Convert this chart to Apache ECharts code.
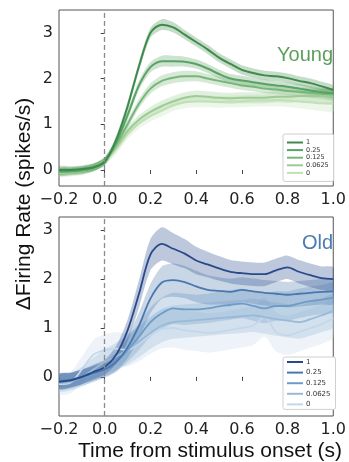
<!DOCTYPE html>
<html>
<head>
<meta charset="utf-8">
<script src="https://cdn.jsdelivr.net/npm/echarts@6/dist/echarts.min.js"></script>
<style>
  html, body { margin: 0; padding: 0; background: #fff; }
  #chart { width: 349px; height: 462px; }
</style>
</head>
<body>
<div id="chart"></div>
<script>
// time from stimulus onset (s)
const times = [-0.2, -0.15, -0.1, -0.05, 0, 0.05, 0.1, 0.15, 0.2, 0.25, 0.3, 0.35, 0.4,
  0.45, 0.5, 0.55, 0.6, 0.65, 0.7, 0.75, 0.8, 0.85, 0.9, 0.95, 1.0];
const levels = ['1', '0.25', '0.125', '0.0625', '0'];
const yTicks = [0, 1, 2, 3];

// Young: mean firing rate change
const young1 = [0.0, 0.0, 0.02, 0.06, 0.18, 0.66, 1.39, 2.27, 3.0, 3.18, 3.12, 2.96, 2.8, 2.64, 2.46, 2.32, 2.19, 2.12, 2.07, 2.05, 2.01, 1.95, 1.9, 1.83, 1.75];
const young025 = [-0.03, -0.02, 0.0, 0.05, 0.2, 0.6, 1.2, 1.85, 2.25, 2.38, 2.38, 2.37, 2.32, 2.22, 2.1, 2.0, 1.96, 1.92, 1.88, 1.85, 1.82, 1.78, 1.74, 1.7, 1.68];
const young0125 = [-0.05, -0.04, -0.02, 0.05, 0.2, 0.55, 1.0, 1.45, 1.78, 1.95, 2.02, 2.05, 2.05, 2.0, 1.95, 1.9, 1.85, 1.82, 1.78, 1.76, 1.73, 1.71, 1.69, 1.67, 1.65];
const young00625 = [-0.05, -0.03, 0.0, 0.06, 0.2, 0.5, 0.85, 1.1, 1.27, 1.4, 1.5, 1.58, 1.62, 1.6, 1.58, 1.57, 1.58, 1.58, 1.58, 1.6, 1.6, 1.62, 1.62, 1.62, 1.62];
const young0 = [-0.06, -0.05, -0.03, 0.05, 0.2, 0.45, 0.78, 1.02, 1.18, 1.3, 1.42, 1.48, 1.5, 1.5, 1.49, 1.5, 1.5, 1.52, 1.52, 1.53, 1.52, 1.5, 1.48, 1.46, 1.45];
// Young: half width of shaded band
const young1Err = [0.08, 0.08, 0.08, 0.08, 0.08, 0.09, 0.1, 0.1, 0.11, 0.12, 0.11, 0.1, 0.1, 0.1, 0.1, 0.1, 0.1, 0.1, 0.1, 0.1, 0.1, 0.1, 0.1, 0.1, 0.1];
const young025Err = [0.08, 0.08, 0.08, 0.08, 0.08, 0.09, 0.1, 0.1, 0.11, 0.12, 0.12, 0.11, 0.1, 0.1, 0.1, 0.1, 0.1, 0.1, 0.1, 0.1, 0.1, 0.1, 0.1, 0.1, 0.1];
const young0125Err = [0.08, 0.08, 0.08, 0.08, 0.08, 0.09, 0.1, 0.1, 0.11, 0.12, 0.12, 0.12, 0.11, 0.1, 0.1, 0.1, 0.1, 0.1, 0.1, 0.1, 0.1, 0.1, 0.11, 0.11, 0.12];
const young00625Err = [0.08, 0.08, 0.08, 0.08, 0.08, 0.09, 0.1, 0.1, 0.11, 0.12, 0.12, 0.12, 0.12, 0.12, 0.12, 0.12, 0.12, 0.12, 0.12, 0.12, 0.13, 0.13, 0.14, 0.14, 0.15];
const young0Err = [0.09, 0.09, 0.09, 0.09, 0.09, 0.1, 0.11, 0.12, 0.12, 0.13, 0.13, 0.13, 0.13, 0.13, 0.13, 0.13, 0.13, 0.13, 0.13, 0.14, 0.14, 0.15, 0.16, 0.17, 0.18];

// Old: mean firing rate change
const old1 = [-0.1, -0.07, 0.0, 0.1, 0.2, 0.45, 0.95, 1.7, 2.5, 2.72, 2.62, 2.52, 2.38, 2.3, 2.22, 2.15, 2.12, 2.1, 2.1, 2.18, 2.24, 2.15, 2.08, 2.02, 2.0];
const old025 = [-0.08, -0.06, 0.0, 0.08, 0.15, 0.3, 0.6, 1.05, 1.6, 1.93, 1.98, 1.94, 1.85, 1.78, 1.76, 1.74, 1.78, 1.75, 1.72, 1.7, 1.68, 1.7, 1.72, 1.74, 1.75];
const old0125 = [-0.1, -0.08, -0.02, 0.05, 0.15, 0.3, 0.55, 0.82, 1.12, 1.3, 1.4, 1.38, 1.38, 1.4, 1.44, 1.47, 1.5, 1.45, 1.4, 1.45, 1.45, 1.5, 1.55, 1.58, 1.62];
const old00625 = [-0.12, -0.1, 0.0, 0.15, 0.3, 0.42, 0.55, 0.72, 0.9, 1.05, 1.12, 1.14, 1.16, 1.18, 1.2, 1.22, 1.24, 1.26, 1.22, 1.18, 1.15, 1.12, 1.18, 1.26, 1.35];
const old0 = [-0.15, -0.12, 0.15, 0.45, 0.55, 0.58, 0.55, 0.68, 0.85, 0.98, 1.0, 0.95, 0.93, 0.9, 0.92, 0.96, 1.0, 1.05, 1.22, 0.92, 0.85, 0.92, 1.0, 1.08, 1.2];
// Old: half width of shaded band
const old1Err = [0.15, 0.15, 0.15, 0.15, 0.15, 0.18, 0.22, 0.28, 0.32, 0.34, 0.32, 0.3, 0.28, 0.26, 0.25, 0.24, 0.24, 0.24, 0.24, 0.24, 0.24, 0.24, 0.24, 0.24, 0.24];
const old025Err = [0.15, 0.15, 0.15, 0.15, 0.15, 0.18, 0.22, 0.26, 0.3, 0.33, 0.34, 0.33, 0.32, 0.3, 0.28, 0.27, 0.26, 0.26, 0.26, 0.26, 0.26, 0.26, 0.26, 0.26, 0.26];
const old0125Err = [0.16, 0.16, 0.16, 0.16, 0.17, 0.2, 0.24, 0.27, 0.3, 0.32, 0.32, 0.32, 0.3, 0.3, 0.3, 0.3, 0.3, 0.3, 0.3, 0.3, 0.3, 0.3, 0.3, 0.3, 0.3];
const old00625Err = [0.18, 0.18, 0.2, 0.24, 0.26, 0.28, 0.3, 0.32, 0.33, 0.34, 0.34, 0.34, 0.34, 0.34, 0.34, 0.34, 0.34, 0.34, 0.34, 0.34, 0.34, 0.34, 0.34, 0.34, 0.34];
const old0Err = [0.2, 0.22, 0.26, 0.3, 0.32, 0.34, 0.34, 0.36, 0.38, 0.4, 0.4, 0.4, 0.4, 0.4, 0.4, 0.4, 0.4, 0.4, 0.4, 0.4, 0.4, 0.4, 0.4, 0.4, 0.4];

const GREENS = ['#3e8a4c', '#58a263', '#76b677', '#9ccb94', '#c0e0b6'];
const BLUES = ['#294a8a', '#4a77ad', '#6e9cc8', '#99b9d6', '#c4d7e9'];
const FONT = 'DejaVu Sans';

function rgba(hex, a) {
  const n = parseInt(hex.slice(1), 16);
  return `rgba(${(n >> 16) & 255},${(n >> 8) & 255},${n & 255},${a})`;
}

const fmtX = (v) => (v < -1e-9 ? '\u2212' : '') + Math.abs(v).toFixed(1);

// shaded band as one polygon: upper edge left->right, lower edge right->left
function bandSeries(idx, mean, err, color, alpha) {
  return {
    type: 'custom', xAxisIndex: idx, yAxisIndex: idx, silent: true, clip: true,
    data: times.map((t, k) => [t, mean[k] - err[k], mean[k] + err[k]]),
    encode: { x: 0, y: [1, 2] },
    renderItem: (params, api) => {
      if (params.dataIndex !== 0) return null;
      const upper = times.map((t, k) => api.coord([t, mean[k] + err[k]]));
      const lower = times.map((t, k) => api.coord([t, mean[k] - err[k]])).reverse();
      return {
        type: 'polygon',
        shape: { points: upper.concat(lower), smooth: 0.25 },
        style: { fill: rgba(color, alpha) },
      };
    },
    z: 1,
  };
}

function panelSeries(tag, idx, means, errs, colors, bandAlpha, lineWidth) {
  const out = [];
  // lightest first so darker bands / lines sit on top
  for (let i = means.length - 1; i >= 0; i--) {
    out.push(bandSeries(idx, means[i], errs[i], colors[i], bandAlpha));
  }
  for (let i = means.length - 1; i >= 0; i--) {
    out.push({
      type: 'line', name: `${tag}:${levels[i]}`, xAxisIndex: idx, yAxisIndex: idx,
      showSymbol: false, smooth: 0.3,
      data: times.map((t, k) => [t, means[i][k]]),
      lineStyle: { color: colors[i], width: lineWidth },
      itemStyle: { color: colors[i] },
      z: 3,
    });
  }
  // dashed onset marker
  out[out.length - 1].markLine = {
    silent: true, symbol: 'none', label: { show: false },
    lineStyle: { color: '#8a8a8a', type: [5, 3], width: 1.3 },
    data: [{ xAxis: 0 }],
  };
  return out;
}

function xAxis(idx) {
  return {
    type: 'value', gridIndex: idx, min: -0.2, max: 1.0, interval: 0.2,
    axisLine: { show: false },
    axisTick: { show: true, length: 4, lineStyle: { color: '#444' } },
    axisLabel: { fontFamily: FONT, fontSize: 16, color: '#222', margin: 6, formatter: fmtX },
    splitLine: { show: false },
  };
}

function yAxis(idx, min, max) {
  return {
    type: 'value', gridIndex: idx, min, max,
    axisLine: { show: false },
    axisTick: { show: true, length: 4, customValues: yTicks, lineStyle: { color: '#444' } },
    axisLabel: { fontFamily: FONT, fontSize: 16, color: '#222', margin: 6, customValues: yTicks },
    splitLine: { show: false },
  };
}

function legend(tag, top, fontSize, lineH, gap, pad) {
  return {
    orient: 'vertical', left: 283, top, selectedMode: false,
    data: levels.map((l) => `${tag}:${l}`),
    formatter: (n) => n.split(':')[1],
    icon: 'rect', itemWidth: 16, itemHeight: 2, itemGap: gap,
    padding: pad, borderColor: '#cfcfcf', borderWidth: 1, borderRadius: 2,
    backgroundColor: '#fff',
    textStyle: { fontFamily: FONT, fontSize, lineHeight: lineH, color: '#333', padding: [0, 0, 0, -2] },
  };
}

const chart = echarts.init(document.getElementById('chart'), null, { renderer: 'canvas' });

const option = {
  animation: false,
  backgroundColor: '#fff',
  grid: [
    { left: 59, top: 10, width: 280, height: 176, show: true, borderColor: '#555', borderWidth: 1, backgroundColor: 'transparent' },
    { left: 59, top: 217, width: 280, height: 199, show: true, borderColor: '#555', borderWidth: 1, backgroundColor: 'transparent' },
  ],
  xAxis: [xAxis(0), xAxis(1)],
  yAxis: [yAxis(0, -0.35, 3.5), yAxis(1, -0.8, 3.27)],
  legend: [
    legend('young', 134, 6.5, 7, 0.6, [5, 5, 5, 4]),
    legend('old', 357, 7, 8, 2.6, [1, 5, 1, 4]),
  ],
  graphic: [
    {
      type: 'text', x: 24, y: 204, rotation: Math.PI / 2,
      style: { text: '\u0394Firing Rate (spikes/s)', fontFamily: 'Liberation Sans', fontSize: 21, fill: '#111', align: 'center', verticalAlign: 'middle' },
    },
    {
      type: 'text', x: 210, y: 451,
      style: { text: 'Time from stimulus onset (s)', fontFamily: 'Liberation Sans', fontSize: 21, fill: '#111', align: 'center', verticalAlign: 'middle' },
    },
    {
      type: 'text', x: 333, y: 55,
      style: { text: 'Young', fontFamily: 'Liberation Sans', fontSize: 20, fill: '#5c9f5c', align: 'right', verticalAlign: 'middle' },
    },
    {
      type: 'text', x: 333, y: 243,
      style: { text: 'Old', fontFamily: 'Liberation Sans', fontSize: 20, fill: '#4a7cb2', align: 'right', verticalAlign: 'middle' },
    },
  ],
  series: [
    ...panelSeries('young', 0, [young1, young025, young0125, young00625, young0],
      [young1Err, young025Err, young0125Err, young00625Err, young0Err], GREENS, 0.3, 2),
    ...panelSeries('old', 1, [old1, old025, old0125, old00625, old0],
      [old1Err, old025Err, old0125Err, old00625Err, old0Err], BLUES, 0.3, 1.8),
  ],
};

chart.setOption(option);
</script>
</body>
</html>
